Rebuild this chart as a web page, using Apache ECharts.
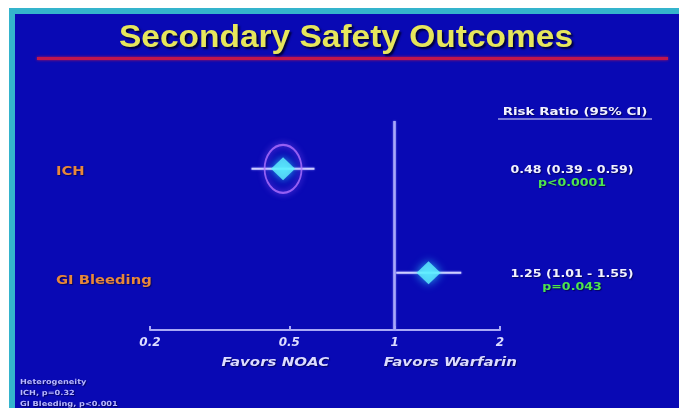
<!DOCTYPE html>
<html>
<head>
<meta charset="utf-8">
<script src="https://cdn.jsdelivr.net/npm/echarts@6/dist/echarts.min.js"></script>
<style>
  html, body { margin: 0; padding: 0; background: #ffffff; }
  #chart { width: 679px; height: 408px; }
</style>
</head>
<body>
<div id="chart"></div>
<script>
// Forest plot data: risk ratio with 95% CI per outcome (top row first)
const outcomes = ['ICH', 'GI Bleeding'];
const riskRatio = [0.48, 1.25];
const ciLow = [0.39, 1.01];
const ciHigh = [0.59, 1.55];
const pValues = ['p<0.0001', 'p=0.043'];
const highlighted = ['ICH'];
const xTicks = [0.2, 0.5, 1, 2];
const favorLabels = ['Favors NOAC', 'Favors Warfarin'];
const heterogeneity = ['Heterogeneity', 'ICH, p=0.32', 'GI Bleeding, p<0.001'];

const BG = '#0909b4';
const SMALL_FONT = '"DejaVu Sans", sans-serif';

// row value on the hidden y axis: first outcome on top
const rowOf = i => outcomes.length - 1 - i;
const fmtRR = i => riskRatio[i].toFixed(2) + ' (' + ciLow[i].toFixed(2) + ' - ' + ciHigh[i].toFixed(2) + ')';

const chart = echarts.init(document.getElementById('chart'), null, { renderer: 'canvas' });

function stretchedText(x, y, text, opts) {
  return {
    type: 'text', x: x, y: y, scaleX: opts.scaleX || 1.2, z: 50,
    style: {
      text: text, x: 0, y: 0,
      fill: opts.fill || '#f0f0ff',
      font: opts.font,
      textAlign: opts.align || 'center', align: opts.align || 'center',
      textVerticalAlign: 'middle', verticalAlign: 'middle',
      textShadowColor: opts.shadow || 'rgba(0,0,40,0.6)',
      textShadowBlur: 1, textShadowOffsetX: 1, textShadowOffsetY: 1
    }
  };
}

const backdrop = [
  { type: 'rect', z: -10, shape: { x: 0, y: 0, width: 679, height: 408 }, style: { fill: '#ffffff' } },
  { type: 'rect', z: -9, shape: { x: 9, y: 8, width: 670, height: 400 }, style: { fill: '#34b4cc' } },
  { type: 'rect', z: -8, shape: { x: 15, y: 14, width: 664, height: 394 }, style: { fill: BG } },
  { type: 'rect', z: -7, shape: { x: 37, y: 57, width: 631, height: 3 },
    style: { fill: '#c0164c', shadowBlur: 3, shadowColor: '#c0164c' } },
  {
    type: 'text', x: 346, y: 38, scaleX: 1.08, z: 50,
    style: {
      text: 'Secondary Safety Outcomes',
      x: 0, y: 0,
      fill: '#e6e65c',
      font: 'bold 31px "Liberation Sans", Arial, sans-serif',
      textAlign: 'center', align: 'center',
      textVerticalAlign: 'middle', verticalAlign: 'middle',
      textShadowColor: '#00003a', textShadowBlur: 2, textShadowOffsetX: 2, textShadowOffsetY: 2
    }
  }
];

const option = {
  backgroundColor: 'transparent',
  animation: false,
  graphic: backdrop,
  grid: { left: 150, width: 350, top: 121, height: 209 },
  xAxis: {
    type: 'log',
    logBase: 10,
    min: 0.2,
    max: 2,
    axisLine: { onZero: false, lineStyle: { color: '#a9a9f6', width: 2 } },
    axisTick: { show: true, inside: true, length: 4, customValues: xTicks,
                lineStyle: { color: '#a9a9f6', width: 2 } },
    axisLabel: {
      customValues: xTicks,
      color: '#dcdcff',
      fontFamily: SMALL_FONT,
      fontWeight: 'bold',
      fontStyle: 'italic',
      fontSize: 12,
      margin: 7,
      formatter: v => String(v)
    },
    splitLine: { show: false }
  },
  yAxis: { type: 'value', min: -0.55, max: 1.46, show: false },
  series: [
    {
      // confidence interval whiskers
      type: 'custom',
      z: 3,
      data: outcomes.map((_, i) => [ciLow[i], ciHigh[i], rowOf(i)]),
      encode: { x: [0, 1], y: 2 },
      renderItem: (params, api) => {
        const a = api.coord([api.value(0), api.value(2)]);
        const b = api.coord([api.value(1), api.value(2)]);
        return {
          type: 'line',
          shape: { x1: a[0], y1: a[1], x2: b[0], y2: b[1] },
          style: { stroke: '#cfcfff', lineWidth: 2, shadowBlur: 2, shadowColor: '#9090ff' }
        };
      }
    },
    {
      // ring around the highlighted estimate
      type: 'scatter',
      z: 4,
      symbol: 'circle',
      symbolSize: [37, 48],
      silent: true,
      itemStyle: {
        color: 'rgba(0,0,0,0)',
        borderColor: '#b070ff',
        borderWidth: 2,
        shadowBlur: 6,
        shadowColor: '#a060ff'
      },
      data: outcomes.map((o, i) => highlighted.includes(o) ? [riskRatio[i], rowOf(i)] : null).filter(Boolean)
    },
    {
      // point estimates
      type: 'scatter',
      z: 5,
      symbol: 'diamond',
      symbolSize: [24, 23],
      itemStyle: { color: '#62f2ff', shadowBlur: 10, shadowColor: '#30d8ff' },
      data: outcomes.map((_, i) => [riskRatio[i], rowOf(i)]),
      markLine: {
        silent: true,
        symbol: 'none',
        label: { show: false },
        lineStyle: { color: '#a9a9f8', width: 2.5, type: 'solid', shadowBlur: 2, shadowColor: '#8080ff' },
        data: [{ xAxis: 1 }]
      }
    }
  ]
};

chart.setOption(option);

// text placed from the chart's own coordinate system
const px = (x, y) => chart.convertToPixel({ gridIndex: 0 }, [x, y]);
const texts = [];
const rowFont = 'bold 12.5px ' + SMALL_FONT;
const valFont = 'bold 10.5px ' + SMALL_FONT;
const rowLabelY = [172, 281];
outcomes.forEach((o, i) => {
  const p = px(1, rowOf(i));
  texts.push(stretchedText(56, rowLabelY[i], o, { font: rowFont, fill: '#e8873a', align: 'left', scaleX: 1.18 }));
  texts.push(stretchedText(572, p[1] + 1, fmtRR(i), { font: valFont, fill: '#f2f2ff' }));
  texts.push(stretchedText(572, p[1] + 14, pValues[i], { font: valFont, fill: '#4ee44e' }));
});
texts.push(stretchedText(575, 112, 'Risk Ratio (95% CI)', { font: 'bold 11px ' + SMALL_FONT, fill: '#f2f2ff', scaleX: 1.22 }));
texts.push({ type: 'line', z: 50, shape: { x1: 498, y1: 119, x2: 652, y2: 119 }, style: { stroke: '#e8e8ff', lineWidth: 1 } });

// favour labels under the axis
const favorX = [0.5, Math.SQRT2];
favorLabels.forEach((t, i) => {
  const p = px(favorX[i], -0.55);
  texts.push(stretchedText(i === 0 ? p[0] - 14 : p[0] + 3, 363, t,
    { font: 'italic bold 12px ' + SMALL_FONT, fill: '#dcdcff', scaleX: 1.25 }));
});

// heterogeneity footnote
heterogeneity.forEach((t, i) => {
  texts.push(stretchedText(20, 382 + i * 11, t, { font: 'bold 7px ' + SMALL_FONT, fill: '#b8b8ff', align: 'left', scaleX: 1.17 }));
});

chart.setOption({ graphic: backdrop.concat(texts) });
</script>
</body>
</html>
